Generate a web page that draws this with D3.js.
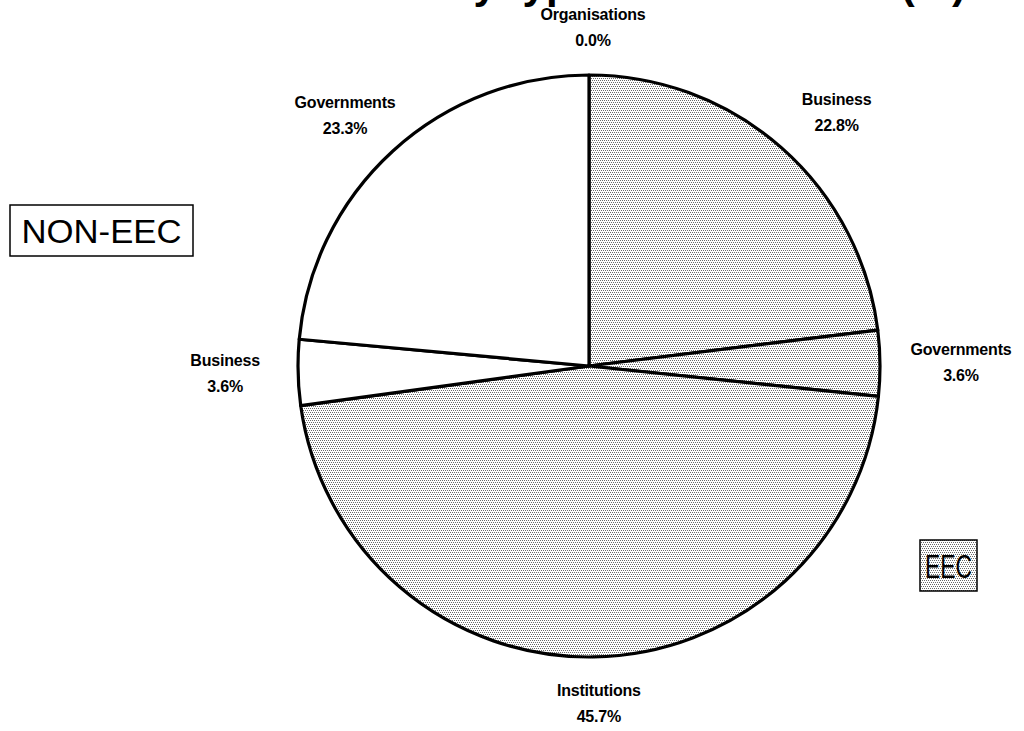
<!DOCTYPE html>
<meta charset="UTF-8">
<style>
  body { margin: 0; background: #fff; }
  svg { display: block; }
  .slice { stroke: #000; stroke-width: 3.2px; stroke-linejoin: round; }
  .lbl { font: bold 16px "Liberation Sans", Arial, sans-serif; letter-spacing: -0.2px; fill: #000; }
  .box text { font: 33px "Liberation Sans", Arial, sans-serif; fill: #000; }
  .title { font: bold 42px "Liberation Sans", Arial, sans-serif; fill: #000; }
</style>
<body>
<script src="https://cdn.jsdelivr.net/npm/d3@7"></script>
<script>
  // slices clockwise from 12 o'clock
  var categories = ["Organisations", "Business", "Governments", "Institutions", "Business", "Governments"];
  var shares = [0.0, 22.8, 3.6, 45.7, 3.6, 23.3];
  var groups = ["NON-EEC", "EEC", "EEC", "EEC", "NON-EEC", "NON-EEC"];
  var legendGroups = ["NON-EEC", "EEC"];

  var width = 1024, height = 731;
  var cx = 589, cy = 366, radius = 291;

  var svg = d3.select("body").append("svg")
    .attr("width", width)
    .attr("height", height);

  // halftone dot fill for the EEC part
  var pat = svg.append("defs").append("pattern")
    .attr("id", "dots")
    .attr("width", 4).attr("height", 4)
    .attr("patternUnits", "userSpaceOnUse");
  pat.append("rect").attr("width", 4).attr("height", 4).attr("fill", "#fff");
  [[0, 0], [2, 0], [1, 2], [3, 2]].forEach(function(p) {
    pat.append("rect").attr("x", p[0]).attr("y", p[1])
      .attr("width", 1).attr("height", 1)
      .attr("fill", "#6a6a6a").attr("shape-rendering", "crispEdges");
  });

  var fill = d3.scaleOrdinal().domain(legendGroups).range(["#fff", "url(#dots)"]);

  // title, cut off by the top of the page (only descenders show)
  svg.append("text")
    .attr("class", "title")
    .attr("x", 966).attr("y", -2)
    .attr("text-anchor", "end")
    .text("Distribution by type of contractors (%)");

  var data = categories.map(function(c, i) {
    return { name: c, value: shares[i], group: groups[i] };
  });

  var pie = d3.pie().sort(null).value(function(d) { return d.value; });
  var arcs = pie(data);

  var arc = d3.arc().innerRadius(0).outerRadius(radius);

  var g = svg.append("g").attr("transform", "translate(" + cx + "," + cy + ")");

  g.selectAll("path.slice")
    .data(arcs.filter(function(d) { return d.value > 0; }))
    .enter().append("path")
    .attr("class", "slice")
    .attr("fill", function(d) { return fill(d.data.group); })
    .attr("d", arc);

  // labels sit on an ellipse outside the pie
  var lx = 368, ly = 338, ldx = 4, ldy = -4;
  var lab = g.selectAll("g.label")
    .data(arcs)
    .enter().append("g")
    .attr("class", "label")
    .attr("transform", function(d) {
      var a = (d.startAngle + d.endAngle) / 2;
      return "translate(" + (ldx + lx * Math.sin(a)) + "," + (ldy - ly * Math.cos(a)) + ")";
    });

  lab.append("text")
    .attr("class", "lbl")
    .attr("text-anchor", "middle")
    .attr("y", -4)
    .text(function(d) { return d.data.name; });

  lab.append("text")
    .attr("class", "lbl")
    .attr("text-anchor", "middle")
    .attr("y", 22)
    .text(function(d) { return d.data.value.toFixed(1) + "%"; });

  // group boxes
  var boxes = [
    { key: "NON-EEC", x: 10, y: 205, w: 183, h: 51, tw: 160 },
    { key: "EEC", x: 920, y: 540, w: 57, h: 51, tw: 47 }
  ];
  var box = svg.selectAll("g.box")
    .data(boxes)
    .enter().append("g")
    .attr("class", "box");

  box.append("rect")
    .attr("x", function(d) { return d.x; })
    .attr("y", function(d) { return d.y; })
    .attr("width", function(d) { return d.w; })
    .attr("height", function(d) { return d.h; })
    .attr("fill", function(d) { return fill(d.key); })
    .attr("stroke", "#000")
    .attr("stroke-width", 1.5);

  box.append("text")
    .attr("x", function(d) { return d.x + d.w / 2; })
    .attr("y", function(d) { return d.y + d.h / 2 + 12; })
    .attr("text-anchor", "middle")
    .attr("textLength", function(d) { return d.tw; })
    .attr("lengthAdjust", "spacingAndGlyphs")
    .text(function(d) { return d.key; });
</script>
</body>
